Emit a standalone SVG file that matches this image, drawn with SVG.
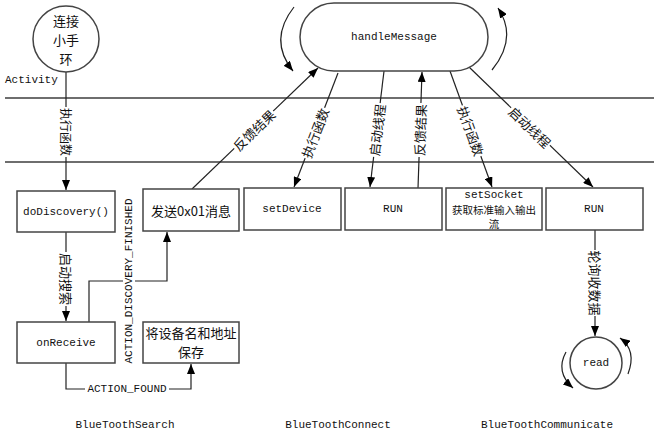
<svg xmlns="http://www.w3.org/2000/svg" width="654" height="439" viewBox="0 0 654 439">
<defs>
<style>
.lane{stroke:#6e6e6e;stroke-width:2;fill:none}
.box{fill:#fff;stroke:#444;stroke-width:1.5}
.ln{stroke:#222;stroke-width:1.2;fill:none}
.t{font-family:"Liberation Mono","Noto Sans CJK SC",monospace;font-size:11px;fill:#111;text-anchor:middle;dominant-baseline:central}
.c{font-family:"Noto Sans CJK SC","Liberation Sans",sans-serif;font-size:13px;fill:#111;text-anchor:middle;dominant-baseline:central}
.bg{fill:#fff}
</style>
<marker id="ar" viewBox="0 0 10 8" refX="10" refY="4" markerWidth="10" markerHeight="8" markerUnits="userSpaceOnUse" orient="auto">
<path d="M0,0 L10,4 L0,8 Z" fill="#000"/>
</marker>
</defs>
<rect width="654" height="439" fill="#fff"/>

<g id="lanes">
<line class="lane" x1="5" y1="98" x2="654" y2="98"/>
<line class="lane" x1="5" y1="162" x2="654" y2="162"/>
<text class="t" x="5" y="80" style="text-anchor:start">Activity</text>
</g>

<g id="connectors">
<line class="ln" x1="66" y1="72" x2="66" y2="190" marker-end="url(#ar)"/>
<line class="ln" x1="66" y1="232" x2="66" y2="321" marker-end="url(#ar)"/>
<path class="ln" d="M66,363 V389 H191 V364" marker-end="url(#ar)"/>
<path class="ln" d="M89,322 V281 H167 V232" marker-end="url(#ar)"/>
<line class="ln" x1="192" y1="189" x2="318" y2="68" marker-end="url(#ar)"/>
<line class="ln" x1="338" y1="73" x2="294" y2="187" marker-end="url(#ar)"/>
<line class="ln" x1="384" y1="71" x2="370" y2="187" marker-end="url(#ar)"/>
<line class="ln" x1="418" y1="188" x2="422" y2="72" marker-end="url(#ar)"/>
<line class="ln" x1="450" y1="71" x2="492" y2="187" marker-end="url(#ar)"/>
<line class="ln" x1="469" y1="67" x2="593" y2="187" marker-end="url(#ar)"/>
<line class="ln" x1="595" y1="230" x2="595" y2="336" marker-end="url(#ar)"/>
<path class="ln" d="M294,7 Q268,40 293,71" marker-end="url(#ar)"/>
<path class="ln" d="M492,70 Q518,38 498,8" marker-end="url(#ar)"/>
<path class="ln" d="M566,352 Q555,372 573,388" marker-end="url(#ar)"/>
<path class="ln" d="M628,374 Q637,350 620,338" marker-end="url(#ar)"/>

<g transform="translate(66,132) rotate(90)"><rect class="bg" x="-25" y="-7" width="50" height="14"/><text class="c" style="font-size:12px">执行函数</text></g>
<g transform="translate(66,279) rotate(90)"><rect class="bg" x="-27" y="-7" width="54" height="14"/><text class="c">启动搜索</text></g>
<g transform="translate(595,283) rotate(90)"><rect class="bg" x="-33" y="-7" width="66" height="14"/><text class="c">轮询收数据</text></g>
<g transform="translate(129,281) rotate(-90)"><rect class="bg" x="-84" y="-6" width="168" height="12"/><text class="t">ACTION_DISCOVERY_FINISHED</text></g>
<g transform="translate(127,389)"><rect class="bg" x="-42" y="-6" width="84" height="12"/><text class="t">ACTION_FOUND</text></g>
<g transform="translate(254,130) rotate(-44)"><rect class="bg" x="-27" y="-7" width="54" height="14"/><text class="c">反馈结果</text></g>
<g transform="translate(315,133) rotate(-69)"><rect class="bg" x="-27" y="-7" width="54" height="14"/><text class="c">执行函数</text></g>
<g transform="translate(377,130) rotate(-83)"><rect class="bg" x="-27" y="-7" width="54" height="14"/><text class="c">启动线程</text></g>
<g transform="translate(420,130) rotate(-88)"><rect class="bg" x="-27" y="-7" width="54" height="14"/><text class="c">反馈结果</text></g>
<g transform="translate(471,131) rotate(70)"><rect class="bg" x="-27" y="-7" width="54" height="14"/><text class="c">执行函数</text></g>
<g transform="translate(530,127) rotate(44)"><rect class="bg" x="-27" y="-7" width="54" height="14"/><text class="c">启动线程</text></g>
</g>

<g id="connect-band">
<circle class="box" cx="66" cy="39" r="33"/>
<text class="c" x="66" y="20">连接</text>
<text class="c" x="66" y="39">小手</text>
<text class="c" x="66" y="58">环</text>
</g>

<g id="handleMessage">
<rect class="box" x="300" y="3" width="188" height="68" rx="34" ry="34"/>
<text class="t" x="394" y="37">handleMessage</text>
</g>

<g id="doDiscovery">
<rect class="box" x="17" y="191" width="98" height="41"/>
<text class="t" x="66" y="212">doDiscovery()</text>
</g>
<g id="onReceive">
<rect class="box" x="17" y="322" width="98" height="41"/>
<text class="t" x="66" y="343">onReceive</text>
</g>
<g id="send01">
<rect class="box" x="143" y="189" width="96" height="42"/>
<text class="c" x="191" y="210">发送0x01消息</text>
</g>
<g id="save">
<rect class="box" x="143" y="322" width="96" height="41"/>
<text class="c" x="191" y="332.5">将设备名和地址</text>
<text class="c" x="191" y="351.5">保存</text>
</g>
<g id="setDevice">
<rect class="box" x="244" y="188" width="97" height="42"/>
<text class="t" x="292" y="209">setDevice</text>
</g>
<g id="runConnect">
<rect class="box" x="345" y="188" width="97" height="42"/>
<text class="t" x="393" y="209">RUN</text>
</g>
<g id="setSocket">
<rect class="box" x="446" y="188" width="96" height="42"/>
<text class="t" x="494" y="195">setSocket</text>
<text class="c" x="494" y="209" style="font-size:10.5px">获取标准输入输出</text>
<text class="c" x="494" y="223" style="font-size:10.5px">流</text>
</g>
<g id="runComm">
<rect class="box" x="546" y="188" width="97" height="42"/>
<text class="t" x="594" y="209">RUN</text>
</g>
<g id="read">
<circle class="box" cx="596" cy="363" r="26"/>
<text class="t" x="596" y="363">read</text>
</g>

<g id="titles">
<text class="t" x="125" y="425">BlueToothSearch</text>
<text class="t" x="338" y="425">BlueToothConnect</text>
<text class="t" x="547" y="425">BlueToothCommunicate</text>
</g>
</svg>
